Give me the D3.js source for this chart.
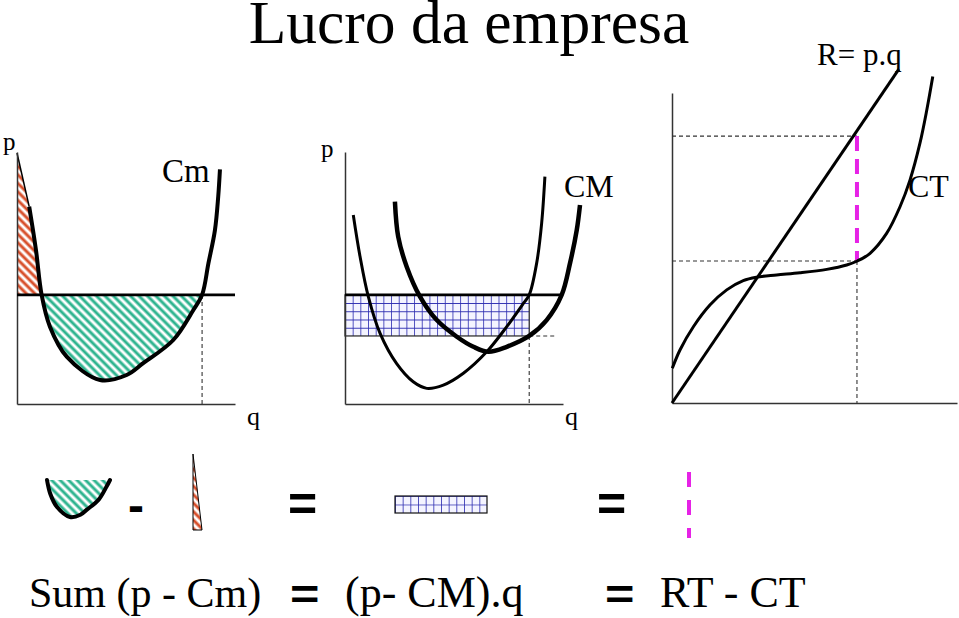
<!DOCTYPE html>
<html>
<head>
<meta charset="utf-8">
<script src="https://cdn.jsdelivr.net/npm/d3@7"></script>
<style>
  html, body { margin: 0; padding: 0; background: #fff; }
  svg { display: block; }
  .serif { font-family: "Liberation Serif", "Times New Roman", serif; fill: #000; }
  .bold { font-family: "Liberation Sans", Arial, sans-serif; font-weight: bold; fill: #000; }
</style>
</head>
<body>
<svg id="chart" width="959" height="618"></svg>
<script>
// ---------------- DATA (values in each panel's own units, 0..10) ----------------
const priceLevel = 4.33;                 // p (horizontal price line), left & middle panels
const qStarLeft = 8.49;                  // q where Cm = p (left panel)
const axisTop = 9.96;                    // top of the rent triangle on the p axis

// Marginal cost Cm, left panel
const cmLeft = [
  [0.56, 7.83], [0.87, 6.11], [1.13, 4.33], [1.51, 3.07], [2.28, 1.88],
  [3.81, 0.95], [5.03, 1.15], [5.79, 1.62], [7.17, 2.54], [8.09, 3.73],
  [8.49, 4.33], [8.78, 5.58], [9.08, 6.90], [9.23, 8.23], [9.31, 9.31]
];

// Middle panel: marginal cost (thin) and average cost CM (thick)
const cmMid = [
  [0.38, 7.50], [0.69, 5.85], [1.07, 4.26], [1.61, 2.80], [2.37, 1.60],
  [3.13, 0.88], [3.75, 0.62], [4.51, 0.75], [5.43, 1.22], [6.50, 2.07],
  [7.42, 3.07], [8.18, 3.99], [8.45, 4.33], [8.79, 5.58], [9.02, 7.17], [9.17, 9.02]
];
const avgCostMid = [
  [2.29, 8.03], [2.44, 6.64], [2.83, 5.45], [3.44, 4.26], [4.21, 3.33],
  [5.13, 2.67], [5.89, 2.27], [6.58, 2.07], [7.42, 2.27], [8.45, 2.70],
  [9.25, 3.33], [9.94, 4.33], [10.32, 5.58], [10.63, 6.90], [10.78, 7.90]
];
const qStarMid = 8.45;                   // q where Cm = p (middle panel)
const avgCostLevel = 2.70;               // CM at q*
const avgCostTickEnd = 9.63;             // end of the short dashed line at CM(q*)

// Right panel: revenue line R = p.q and total cost CT
const revenueLine = [[0, 0], [7.96, 10.77]];
const totalCost = [
  [0.01, 1.12], [0.28, 1.71], [0.75, 2.46], [1.33, 3.16], [1.92, 3.65],
  [2.50, 3.95], [2.97, 4.06], [3.67, 4.13], [4.49, 4.20], [5.43, 4.31],
  [6.13, 4.45], [6.50, 4.58], [6.95, 4.83], [7.53, 5.47], [8.00, 6.33],
  [8.35, 7.19], [8.70, 8.38], [8.94, 9.45], [9.15, 10.53]
];
const qStarRight = 6.49;
const rtLevel = 8.61;
const ctLevel = 4.58;

// Texts
const titleText = "Lucro da empresa";
const axisLabels = { p: "p", q: "q" };
const curveLabels = { cmLeft: "Cm", cmMid: "CM", rev: "R= p.q", ct: "CT" };
const formulaParts = ["Sum (p - Cm)", "=", "(p- CM).q", "=", "RT - CT"];
const iconOps = ["-", "=", "="];

// ---------------- DRAWING ----------------
const svg = d3.select("#chart");
const defs = svg.append("defs");

const GREEN = "#2eb48f", RED = "#d8502c", BLUE = "#2b2bb0", MAGENTA = "#e622e6", AXIS = "#333";

function hatch(id, color) {
  const p = defs.append("pattern").attr("id", id)
    .attr("patternUnits", "userSpaceOnUse").attr("width", 6).attr("height", 6)
    .attr("patternTransform", "rotate(-45)");
  p.append("rect").attr("width", 6).attr("height", 6).attr("fill", "#fff");
  p.append("line").attr("x1", 3).attr("y1", 0).attr("x2", 3).attr("y2", 6)
    .attr("stroke", color).attr("stroke-width", 3);
}
hatch("hGreen", GREEN);
hatch("hRed", RED);

function grid(id, x, y, w, h) {
  const p = defs.append("pattern").attr("id", id)
    .attr("patternUnits", "userSpaceOnUse").attr("x", x).attr("y", y)
    .attr("width", w).attr("height", h);
  p.append("rect").attr("width", w).attr("height", h).attr("fill", "#f4f4ff");
  p.append("path").attr("d", `M0,0H${w}M0,0V${h}`)
    .attr("stroke", BLUE).attr("stroke-width", 1.6).attr("fill", "none");
}

const line = (sx, sy, curve) => d3.line().x(d => sx(d[0])).y(d => sy(d[1])).curve(curve || d3.curveLinear);

function axes(g, sx, sy, color) {
  g.append("g").attr("transform", `translate(0,${sy(0)})`)
    .call(d3.axisBottom(sx).ticks(0).tickSizeOuter(0))
    .call(a => a.select(".domain").attr("stroke", color).attr("stroke-width", 1.5));
  g.append("g").attr("transform", `translate(${sx(0)},0)`)
    .call(d3.axisLeft(sy).ticks(0).tickSizeOuter(0))
    .call(a => a.select(".domain").attr("stroke", color).attr("stroke-width", 1.5));
}
function dashed(g, pts, sx, sy) {
  g.append("path").attr("d", line(sx, sy)(pts)).attr("fill", "none")
    .attr("stroke", AXIS).attr("stroke-width", 1.1).attr("stroke-dasharray", "4,3");
}

// Title
svg.append("text").attr("class", "serif").attr("x", 469).attr("y", 43)
  .attr("text-anchor", "middle").attr("font-size", 61.5).text(titleText);

// ---------- Left panel ----------
{
  const x = d3.scaleLinear([0, 10], [17, 235]);
  const y = d3.scaleLinear([0, 10], [404, 152]);
  const g = svg.append("g");
  const smooth = d3.curveCatmullRom.alpha(0.5);

  // rent triangle (red)
  const tri = [[0, axisTop], ...cmLeft.slice(0, 3), [0, priceLevel]];
  g.append("path").attr("d", line(x, y)(tri) + "Z").attr("fill", "url(#hRed)");
  g.append("path").attr("d", line(x, y)([[0, axisTop], cmLeft[0]]))
    .attr("stroke", "#000").attr("stroke-width", 1.5).attr("fill", "none");

  // surplus region (green)
  const i0 = cmLeft.findIndex(d => d[0] >= 1.13), i1 = cmLeft.findIndex(d => d[0] >= qStarLeft);
  g.append("path").attr("d", line(x, y, smooth)(cmLeft.slice(i0, i1 + 1)) + "Z")
    .attr("fill", "url(#hGreen)");

  axes(g, x, y, AXIS);
  dashed(g, [[qStarLeft, priceLevel], [qStarLeft, 0]], x, y);

  g.append("path").attr("d", line(x, y)([[0, priceLevel], [10, priceLevel]]))
    .attr("stroke", "#000").attr("stroke-width", 2.8);
  g.append("path").attr("d", line(x, y, smooth)(cmLeft)).attr("fill", "none")
    .attr("stroke", "#000").attr("stroke-width", 4).attr("stroke-linejoin", "round");

  g.append("text").attr("class", "serif").attr("x", 3).attr("y", 150).attr("font-size", 25).text(axisLabels.p);
  g.append("text").attr("class", "serif").attr("x", 247).attr("y", 425).attr("font-size", 26).text(axisLabels.q);
  g.append("text").attr("class", "serif").attr("x", 162).attr("y", 182).attr("font-size", 33).text(curveLabels.cmLeft);
}

// ---------- Middle panel ----------
{
  const x = d3.scaleLinear([0, 10], [345, 563]);
  const y = d3.scaleLinear([0, 10], [404, 152]);
  const g = svg.append("g");
  const smooth = d3.curveCatmullRom.alpha(0.5);

  grid("gMid", x(0), y(priceLevel), (x(qStarMid) - x(0)) / 24, (y(avgCostLevel) - y(priceLevel)) / 5);
  g.append("rect").attr("x", x(0)).attr("y", y(priceLevel))
    .attr("width", x(qStarMid) - x(0)).attr("height", y(avgCostLevel) - y(priceLevel))
    .attr("fill", "url(#gMid)").attr("stroke", "#222").attr("stroke-width", 1.2);

  axes(g, x, y, AXIS);
  dashed(g, [[qStarMid, avgCostLevel], [avgCostTickEnd, avgCostLevel]], x, y);
  dashed(g, [[qStarMid, avgCostLevel], [qStarMid, 0]], x, y);

  g.append("path").attr("d", line(x, y)([[0, priceLevel], [9.94, priceLevel]]))
    .attr("stroke", "#000").attr("stroke-width", 2.8);
  g.append("path").attr("d", line(x, y, smooth)(cmMid)).attr("fill", "none")
    .attr("stroke", "#000").attr("stroke-width", 3);
  g.append("path").attr("d", line(x, y, smooth)(avgCostMid)).attr("fill", "none")
    .attr("stroke", "#000").attr("stroke-width", 4.5);

  g.append("text").attr("class", "serif").attr("x", 321).attr("y", 157).attr("font-size", 25).text(axisLabels.p);
  g.append("text").attr("class", "serif").attr("x", 565).attr("y", 425).attr("font-size", 26).text(axisLabels.q);
  g.append("text").attr("class", "serif").attr("x", 564).attr("y", 197).attr("font-size", 32).text(curveLabels.cmMid);
}

// ---------- Right panel ----------
{
  const x = d3.scaleLinear([0, 10], [672, 957]);
  const y = d3.scaleLinear([0, 10], [403, 93]);
  const g = svg.append("g");
  const smooth = d3.curveCatmullRom.alpha(0.5);

  axes(g, x, y, AXIS);
  dashed(g, [[0, rtLevel], [qStarRight, rtLevel]], x, y);
  dashed(g, [[0, ctLevel], [qStarRight, ctLevel]], x, y);
  dashed(g, [[qStarRight, ctLevel], [qStarRight, 0]], x, y);

  g.append("path").attr("d", line(x, y)([[qStarRight, rtLevel], [qStarRight, ctLevel]]))
    .attr("stroke", MAGENTA).attr("stroke-width", 4).attr("stroke-dasharray", "15,8");

  g.append("path").attr("d", line(x, y)(revenueLine)).attr("fill", "none")
    .attr("stroke", "#000").attr("stroke-width", 3);
  g.append("path").attr("d", line(x, y, smooth)(totalCost)).attr("fill", "none")
    .attr("stroke", "#000").attr("stroke-width", 3);

  g.append("text").attr("class", "serif").attr("x", 817).attr("y", 65).attr("font-size", 31).text(curveLabels.rev);
  g.append("text").attr("class", "serif").attr("x", 908).attr("y", 197).attr("font-size", 32).text(curveLabels.ct);
}

// ---------- Icon row ----------
{
  const g = svg.append("g");
  const smooth = d3.curveCatmullRom.alpha(0.5);
  // green surplus icon
  const seg = cmLeft.filter(d => d[0] >= 1.13 && d[0] <= qStarLeft);
  const ix = d3.scaleLinear([1.13, qStarLeft], [47, 110]);
  const iy = d3.scaleLinear([0.95, priceLevel], [517, 480]);
  g.append("path").attr("d", line(ix, iy, smooth)(seg) + "Z").attr("fill", "url(#hGreen)");
  g.append("path").attr("d", line(ix, iy, smooth)(seg)).attr("fill", "none")
    .attr("stroke", "#000").attr("stroke-width", 4).attr("stroke-linecap", "round");

  // red triangle icon
  const tx = d3.scaleLinear([0, 1.13], [193, 202]);
  const ty = d3.scaleLinear([priceLevel, axisTop], [530, 454]);
  g.append("path").attr("d", line(tx, ty)([[0, axisTop], [0, priceLevel], [1.13, priceLevel]]) + "Z")
    .attr("fill", "url(#hRed)").attr("stroke", "#000").attr("stroke-width", 1);

  // grid rectangle icon
  const gx = d3.scaleLinear([0, qStarMid], [395, 487]);
  const gy = d3.scaleLinear([avgCostLevel, priceLevel], [513, 496]);
  grid("gIcon", gx(0), gy(priceLevel), (gx(qStarMid) - gx(0)) / 12, (gy(avgCostLevel) - gy(priceLevel)) / 2);
  g.append("rect").attr("x", gx(0)).attr("y", gy(priceLevel))
    .attr("width", gx(qStarMid) - gx(0)).attr("height", gy(avgCostLevel) - gy(priceLevel))
    .attr("fill", "url(#gIcon)").attr("stroke", "#111").attr("stroke-width", 1.2);

  // magenta icon
  const my = d3.scaleLinear([ctLevel, rtLevel], [538, 472]);
  g.append("line").attr("x1", 689).attr("x2", 689).attr("y1", my(rtLevel)).attr("y2", my(ctLevel))
    .attr("stroke", MAGENTA).attr("stroke-width", 4).attr("stroke-dasharray", "15,13");

  g.append("text").attr("class", "bold").attr("x", 128).attr("y", 522).attr("font-size", 48).text(iconOps[0]);
  g.append("text").attr("class", "bold").attr("x", 288).attr("y", 521).attr("font-size", 50).text(iconOps[1]);
  g.append("text").attr("class", "bold").attr("x", 597).attr("y", 521).attr("font-size", 50).text(iconOps[2]);
}

// ---------- Formula line ----------
{
  const g = svg.append("g");
  g.append("text").attr("class", "serif").attr("x", 29).attr("y", 607).attr("font-size", 42).text(formulaParts[0]);
  g.append("text").attr("class", "bold").attr("font-size", 42)
    .attr("transform", "translate(290,609) scale(1.2,1)").text(formulaParts[1]);
  g.append("text").attr("class", "serif").attr("x", 345).attr("y", 607).attr("font-size", 44).text(formulaParts[2]);
  g.append("text").attr("class", "bold").attr("font-size", 42)
    .attr("transform", "translate(605,609) scale(1.2,1)").text(formulaParts[3]);
  g.append("text").attr("class", "serif").attr("x", 660).attr("y", 607).attr("font-size", 44).text(formulaParts[4]);
}
</script>
</body>
</html>
